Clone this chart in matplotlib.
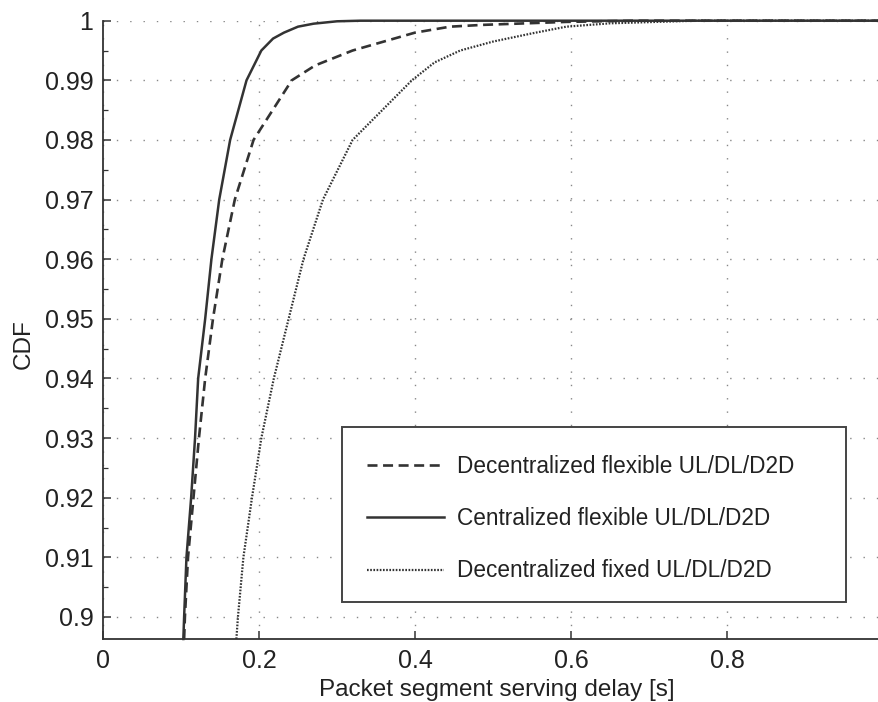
import matplotlib
matplotlib.use('Agg')
import matplotlib.pyplot as plt
from matplotlib.patches import Rectangle
from matplotlib.ticker import MultipleLocator

# CDF levels and the delay [s] at those levels
cdf_central = [0.8963, 0.90, 0.91, 0.92, 0.93, 0.94, 0.95, 0.96, 0.97, 0.98,
               0.99, 0.995, 0.997, 0.998, 0.999, 0.9995, 0.9999, 1.0, 1.0]
delay_central = [0.103, 0.104, 0.107, 0.113, 0.118, 0.122, 0.131, 0.139, 0.149, 0.163,
                 0.184, 0.203, 0.218, 0.232, 0.250, 0.270, 0.300, 0.33, 1.0]

cdf_decentral = [0.8963, 0.90, 0.91, 0.92, 0.93, 0.94, 0.95, 0.96, 0.97, 0.98,
                 0.99, 0.9925, 0.995, 0.998, 0.999, 0.9993, 0.9998, 1.0, 1.0]
delay_decentral = [0.104, 0.105, 0.109, 0.116, 0.123, 0.131, 0.141, 0.153, 0.169, 0.193,
                   0.242, 0.272, 0.320, 0.400, 0.445, 0.487, 0.594, 0.68, 1.0]

cdf_fixed = [0.8963, 0.90, 0.91, 0.92, 0.93, 0.94, 0.95, 0.96, 0.97, 0.98,
             0.99, 0.993, 0.995, 0.9965, 0.9979, 0.999, 0.99956, 1.0, 1.0]
delay_fixed = [0.171, 0.173, 0.180, 0.191, 0.203, 0.219, 0.238, 0.257, 0.282, 0.320,
               0.396, 0.425, 0.458, 0.500, 0.551, 0.594, 0.650, 0.76, 1.0]

labels = ["Decentralized flexible UL/DL/D2D",
          "Centralized flexible UL/DL/D2D",
          "Decentralized fixed UL/DL/D2D"]

x_ticks = [0, 0.2, 0.4, 0.6, 0.8, 1.0]
x_tick_labels = ["0", "0.2", "0.4", "0.6", "0.8", "1"]
y_ticks = [0.9, 0.91, 0.92, 0.93, 0.94, 0.95, 0.96, 0.97, 0.98, 0.99, 1.0]
y_tick_labels = ["0.9", "0.91", "0.92", "0.93", "0.94", "0.95", "0.96",
                 "0.97", "0.98", "0.99", "1"]

plt.rcParams['font.family'] = ['Liberation Sans', 'DejaVu Sans']
plt.rcParams['lines.scale_dashes'] = False

ink = '#333333'
txt = '#222222'
fig = plt.figure(figsize=(8.79, 7.02), dpi=100)
ax = fig.add_axes([103 / 879, 1 - 639 / 702, 780 / 879, (639 - 20.7) / 702])

l_dec, = ax.plot(delay_decentral, cdf_decentral, color=ink, lw=1.9,
                 dashes=(7.2, 4.0), clip_on=False, zorder=3)
l_cen, = ax.plot(delay_central, cdf_central, color=ink, lw=1.8,
                 clip_on=False, zorder=3)
l_fix, = ax.plot(delay_fixed, cdf_fixed, color=ink, lw=1.6,
                 dashes=(1.2, 1.1), clip_on=False, zorder=3)

ax.set_xlim(0, 1)
ax.set_ylim(0.8963, 1.0)
ax.set_xticks(x_ticks)
ax.set_xticklabels(x_tick_labels)
ax.set_yticks(y_ticks)
ax.set_yticklabels(y_tick_labels)
ax.yaxis.set_minor_locator(MultipleLocator(0.005))

ax.grid(True, which='major', color='#888888', lw=1.0, dashes=(1.0, 8.6))
ax.set_axisbelow(True)

for side in ['top', 'right']:
    ax.spines[side].set_visible(False)
for side in ['left', 'bottom']:
    ax.spines[side].set_color(ink)
    ax.spines[side].set_linewidth(1.3)

ax.tick_params(which='major', direction='in', length=6, width=1.1, color=ink,
               labelsize=18, labelcolor=txt, pad=7)
ax.tick_params(which='minor', direction='in', length=3.5, width=0.9, color=ink)
ax.tick_params(axis='y', which='both', right=False)
ax.tick_params(axis='x', which='both', top=False)

ax.set_xlabel("Packet segment serving delay [s]", fontsize=17.5, color=txt)
ax.set_ylabel("CDF", fontsize=17.5, color=txt)
ax.xaxis.set_label_coords(0.505, -0.0825)
ax.xaxis.label.set_va('center')
ax.yaxis.set_label_coords(-0.101, 0.477)
ax.yaxis.label.set_va('center')

# legend box
box = Rectangle((0.3064, 0.0598), 0.6462, 0.2831, transform=ax.transAxes,
                facecolor='white', edgecolor='#444444', lw=1.4, zorder=5)
ax.add_patch(box)
leg = ax.legend([l_dec, l_cen, l_fix], labels, loc='upper left',
                bbox_to_anchor=(0.3064 + 0.021, 0.3429 - 0.030),
                frameon=False, fontsize=16.3, handlelength=3.4,
                handletextpad=0.55, labelspacing=1.3, borderpad=0.4,
                borderaxespad=0)
leg.set_zorder(6)
for t in leg.get_texts():
    t.set_color(txt)

fig.savefig('out.png', dpi=100)
